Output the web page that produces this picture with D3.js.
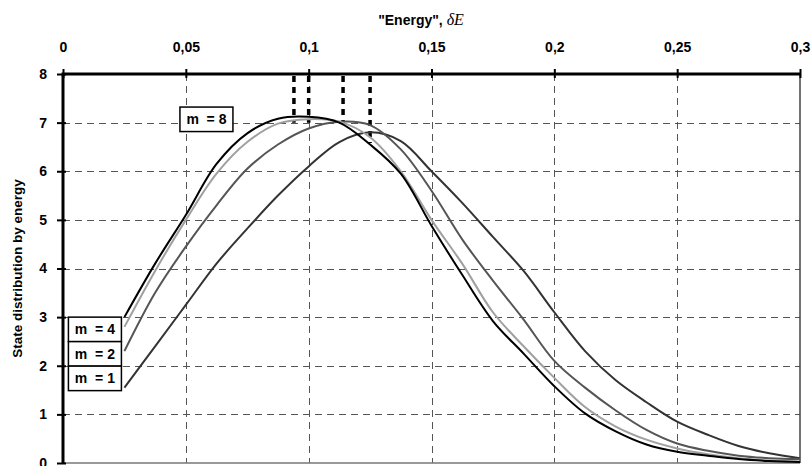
<!DOCTYPE html>
<html lang="en">
<head>
  <meta charset="UTF-8" />
  <title>State distribution by energy</title>
  <script src="https://d3js.org/d3.v7.min.js"></script>
  <style>
    body { margin: 0; background: #fff; }
    svg { display: block; font-family: "Liberation Sans", Arial, sans-serif; }
  </style>
</head>
<body>
  <svg id="chart" width="812" height="466"></svg>

  <script>
    // Energy grid (x) and the four distributions
    const energy = [0.025, 0.0375, 0.05, 0.0625, 0.075, 0.0875, 0.1, 0.1125, 0.125, 0.1375,
                    0.15, 0.1625, 0.175, 0.1875, 0.2, 0.2125, 0.225, 0.2375, 0.25, 0.2625,
                    0.275, 0.2875, 0.3];
    const m8 = [3.0, 4.1, 5.1, 6.15, 6.78, 7.08, 7.12, 7.0, 6.55, 5.95,
                4.88, 3.87, 2.92, 2.25, 1.58, 1.02, 0.65, 0.38, 0.23, 0.15,
                0.08, 0.04, 0.02];
    const m4 = [2.8, 3.95, 5.0, 5.95, 6.6, 6.98, 7.07, 7.02, 6.7, 6.0,
                5.0, 4.1, 3.1, 2.4, 1.75, 1.15, 0.75, 0.48, 0.3, 0.18,
                0.1, 0.05, 0.03];
    const m2 = [2.3, 3.5, 4.45, 5.3, 6.05, 6.55, 6.88, 7.02, 6.95, 6.45,
                5.6, 4.6, 3.75, 2.95, 2.1, 1.55, 1.08, 0.68, 0.4, 0.25,
                0.15, 0.1, 0.08];
    const m1 = [1.55, 2.4, 3.25, 4.1, 4.82, 5.5, 6.1, 6.6, 6.8, 6.62,
                6.0, 5.35, 4.65, 3.95, 3.1, 2.3, 1.7, 1.25, 0.85, 0.58,
                0.35, 0.2, 0.1];

    const seriesNames = ["m  = 8", "m  = 4", "m  = 2", "m  = 1"];
    const seriesColors = ["#000000", "#a0a0a0", "#555555", "#333333"];

    // peak markers (thick dotted verticals from the top axis)
    const peakEnergy = [0.094, 0.1, 0.114, 0.125];
    const peakMarkEnd = [7.0, 7.0, 7.0, 6.58];

    const xTicks = [0, 0.05, 0.1, 0.15, 0.2, 0.25, 0.3];
    const xTickLabels = ["0", "0,05", "0,1", "0,15", "0,2", "0,25", "0,3"];
    const yTicks = [0, 1, 2, 3, 4, 5, 6, 7, 8];

    const svg = d3.select("#chart");
    const margin = { top: 74, right: 12, bottom: 3, left: 63 };
    const width = +svg.attr("width");
    const height = +svg.attr("height");

    const x = d3.scaleLinear().domain([0, 0.3]).range([margin.left, width - margin.right]);
    const y = d3.scaleLinear().domain([0, 8]).range([height - margin.bottom, margin.top]);

    // Grid lines
    const grid = svg.append("g")
      .attr("stroke", "#555")
      .attr("stroke-width", 1)
      .attr("stroke-dasharray", "7,5");
    grid.selectAll("line.v")
      .data(xTicks.slice(1, -1))
      .join("line")
      .attr("class", "v")
      .attr("x1", d => Math.round(x(d)) + 0.5)
      .attr("x2", d => Math.round(x(d)) + 0.5)
      .attr("y1", y(8))
      .attr("y2", y(0));
    grid.selectAll("line.h")
      .data(yTicks.slice(1, -1))
      .join("line")
      .attr("class", "h")
      .attr("x1", x(0))
      .attr("x2", x(0.3))
      .attr("y1", d => Math.round(y(d)) + 0.5)
      .attr("y2", d => Math.round(y(d)) + 0.5);

    // Right and bottom frame
    svg.append("line")
      .attr("x1", x(0.3)).attr("x2", x(0.3))
      .attr("y1", y(8)).attr("y2", y(0))
      .attr("stroke", "#444").attr("stroke-width", 1.5);
    svg.append("line")
      .attr("x1", x(0)).attr("x2", x(0.3))
      .attr("y1", y(0)).attr("y2", y(0))
      .attr("stroke", "#777").attr("stroke-width", 1.5);

    // Peak markers
    svg.append("g")
      .selectAll("line")
      .data(peakEnergy)
      .join("line")
      .attr("x1", d => x(d))
      .attr("x2", d => x(d))
      .attr("y1", y(8) + 2)
      .attr("y2", (d, i) => y(peakMarkEnd[i]))
      .attr("stroke", "#000")
      .attr("stroke-width", 3.5)
      .attr("stroke-dasharray", "6,5");

    // Curves (smoothed, like the spreadsheet original)
    const seriesData = [m8, m4, m2, m1];
    const line = d3.line()
      .x((d, i) => x(energy[i]))
      .y(d => y(d))
      .curve(d3.curveCatmullRom.alpha(0.5));

    // draw dark ones first so the black m=8 curve stays on top
    [3, 2, 1, 0].forEach(k => {
      svg.append("path")
        .datum(seriesData[k])
        .attr("fill", "none")
        .attr("stroke", seriesColors[k])
        .attr("stroke-width", 2)
        .attr("stroke-linejoin", "round")
        .attr("d", line);
    });

    // X axis (top)
    const xAxis = svg.append("g")
      .attr("transform", `translate(0, ${y(8)})`)
      .call(d3.axisTop(x).tickValues(xTicks).tickFormat((d, i) => xTickLabels[i])
        .tickSize(5).tickPadding(17));
    xAxis.select(".domain").remove();
    xAxis.selectAll(".tick line").attr("y2", -5).attr("y1", 4).attr("stroke", "#000").attr("stroke-width", 2);
    xAxis.selectAll(".tick text")
      .attr("font-size", 14).attr("font-weight", "bold").attr("fill", "#000")
      .attr("font-family", "'Liberation Sans', Arial, sans-serif");

    // Y axis (left)
    const yAxis = svg.append("g")
      .attr("transform", `translate(${x(0)}, 0)`)
      .call(d3.axisLeft(y).tickValues(yTicks).tickSize(6).tickPadding(10));
    yAxis.select(".domain").remove();
    yAxis.selectAll(".tick line").attr("x2", -6).attr("x1", 3).attr("stroke", "#000").attr("stroke-width", 2);
    yAxis.selectAll(".tick text")
      .attr("font-size", 14).attr("font-weight", "bold").attr("fill", "#000")
      .attr("font-family", "'Liberation Sans', Arial, sans-serif");

    // Thick axis lines
    svg.append("line")
      .attr("x1", x(0) - 1.5).attr("x2", x(0.3) + 1)
      .attr("y1", y(8)).attr("y2", y(8))
      .attr("stroke", "#000").attr("stroke-width", 3);
    svg.append("line")
      .attr("x1", x(0)).attr("x2", x(0))
      .attr("y1", y(8)).attr("y2", y(0))
      .attr("stroke", "#000").attr("stroke-width", 3);

    // Axis titles
    const title = svg.append("text")
      .attr("x", 421)
      .attr("y", 25)
      .attr("text-anchor", "middle")
      .attr("font-size", 14)
      .attr("font-weight", "bold");
    title.append("tspan").text("\"Energy\", ");
    title.append("tspan")
      .attr("font-family", "'Liberation Serif', 'Times New Roman', serif")
      .attr("font-style", "italic")
      .attr("font-weight", "normal")
      .attr("font-size", 16)
      .text("δE");

    svg.append("text")
      .attr("transform", `translate(22, ${(y(0) + y(8)) / 2}) rotate(-90)`)
      .attr("text-anchor", "middle")
      .attr("font-size", 13.5)
      .attr("font-weight", "bold")
      .text("State distribution by energy");

    // Series labels
    const boxW = 53, boxH = 24.5;
    function labelBox(left, top, text) {
      const g = svg.append("g").attr("transform", `translate(${left}, ${top})`);
      g.append("rect")
        .attr("width", boxW).attr("height", boxH)
        .attr("fill", "#fff").attr("stroke", "#000").attr("stroke-width", 1.5);
      g.append("text")
        .attr("x", boxW / 2).attr("y", boxH / 2 + 5)
        .attr("text-anchor", "middle")
        .attr("font-size", 14).attr("font-weight", "bold")
        .attr("xml:space", "preserve")
        .style("white-space", "pre")
        .text(text);
    }
    labelBox(x(0.0476), y(7.32), seriesNames[0]);
    const stackLeft = x(energy[0]) - 3 - boxW;
    labelBox(stackLeft, y(3), seriesNames[1]);
    labelBox(stackLeft, y(3) + boxH, seriesNames[2]);
    labelBox(stackLeft, y(3) + 2 * boxH, seriesNames[3]);
  </script>
</body>
</html>
